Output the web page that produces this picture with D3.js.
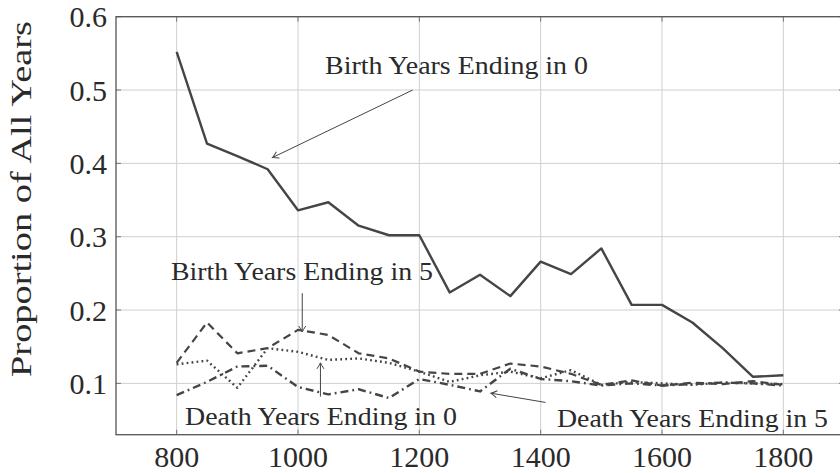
<!DOCTYPE html>
<html>
<head>
<meta charset="utf-8">
<script src="https://cdn.jsdelivr.net/npm/d3@7"></script>
<style>
  body { margin: 0; background: #fff; }
  svg { display: block; }
</style>
</head>
<body>
<div id="chart"></div>
<script>
// data, one value every 50 years
const YEARS = d3.range(800, 1801, 50);
const BIRTH_0 = [0.552, 0.427, 0.410, 0.392, 0.336, 0.347, 0.315, 0.302, 0.302, 0.224, 0.248,
                 0.219, 0.266, 0.249, 0.284, 0.207, 0.207, 0.183, 0.148, 0.109, 0.111];
const BIRTH_5 = [0.128, 0.183, 0.141, 0.148, 0.173, 0.166, 0.141, 0.134, 0.116, 0.113, 0.113,
                 0.127, 0.123, 0.113, 0.098, 0.104, 0.097, 0.101, 0.099, 0.103, 0.098];
const DEATH_0 = [0.126, 0.131, 0.094, 0.148, 0.143, 0.132, 0.134, 0.128, 0.116, 0.102, 0.111,
                 0.116, 0.107, 0.118, 0.098, 0.102, 0.100, 0.098, 0.101, 0.100, 0.099];
const DEATH_5 = [0.084, 0.102, 0.123, 0.124, 0.095, 0.085, 0.092, 0.080, 0.106, 0.098, 0.089,
                 0.120, 0.106, 0.103, 0.097, 0.100, 0.097, 0.099, 0.101, 0.100, 0.097];
const X_TICKS = [800, 1000, 1200, 1400, 1600, 1800];
const Y_TICKS = [0.1, 0.2, 0.3, 0.4, 0.5, 0.6];

const WIDTH = 840;
const HEIGHT = 473;
const FONT = "Liberation Serif";
const INK = "#454545";
const TEXT = "#2a2a2a";
const BIG = 1.2; // big labels are drawn at 25px and scaled up

const svg = d3.select("#chart").append("svg")
    .attr("width", WIDTH).attr("height", HEIGHT)
    .attr("font-family", FONT);

const x = d3.scaleLinear().domain([700, 1900]).range([116, 844]);
const y = d3.scaleLinear().domain([0.03, 0.6]).range([434.7, 16.7]);

// grid
svg.append("g")
    .selectAll("line")
    .data(X_TICKS)
    .join("line")
    .attr("x1", d => x(d)).attr("x2", d => x(d))
    .attr("y1", y(0.6)).attr("y2", y(0.03))
    .attr("stroke", "#cfcfcf").attr("stroke-width", 1);

svg.append("g")
    .selectAll("line")
    .data(Y_TICKS)
    .join("line")
    .attr("x1", x(700)).attr("x2", x(1900))
    .attr("y1", d => y(d)).attr("y2", d => y(d))
    .attr("stroke", "#cfcfcf").attr("stroke-width", 1);

// small inner ticks like pgfplots
const tickG = svg.append("g").attr("stroke", "#777").attr("stroke-width", 1);
Y_TICKS.forEach(t => {
    tickG.append("line").attr("x1", x(700)).attr("x2", x(700) + 5).attr("y1", y(t)).attr("y2", y(t));
    tickG.append("line").attr("x1", x(1900) - 5).attr("x2", x(1900)).attr("y1", y(t)).attr("y2", y(t));
});
X_TICKS.forEach(t => {
    tickG.append("line").attr("x1", x(t)).attr("x2", x(t)).attr("y1", y(0.03)).attr("y2", y(0.03) - 5);
    tickG.append("line").attr("x1", x(t)).attr("x2", x(t)).attr("y1", y(0.6)).attr("y2", y(0.6) + 5);
});

// frame
svg.append("rect")
    .attr("x", x(700)).attr("y", y(0.6))
    .attr("width", x(1900) - x(700)).attr("height", y(0.03) - y(0.6))
    .attr("fill", "none").attr("stroke", "#555").attr("stroke-width", 1.3);

// tick labels drawn from the scales
svg.append("g")
    .selectAll("text")
    .data(X_TICKS)
    .join("text")
    .attr("transform", d => `translate(${x(d)},467) scale(${BIG})`)
    .attr("text-anchor", "middle")
    .attr("font-size", 25)
    .attr("fill", TEXT)
    .text(d3.format("d"));

svg.append("g")
    .selectAll("text")
    .data(Y_TICKS)
    .join("text")
    .attr("transform", d => `translate(107,${y(d) + 10.5}) scale(${BIG})`)
    .attr("text-anchor", "end")
    .attr("font-size", 25)
    .attr("fill", TEXT)
    .text(d3.format(".1f"));

svg.append("text")
    .attr("transform", `translate(31,199) rotate(-90) scale(${BIG})`)
    .attr("text-anchor", "middle")
    .attr("font-size", 25)
    .attr("fill", TEXT)
    .attr("textLength", 356 / BIG).attr("lengthAdjust", "spacingAndGlyphs")
    .text("Proportion of All Years");

// lines
const series = [
    { name: "Birth Years Ending in 0", values: BIRTH_0, dash: null, width: 2.4 },
    { name: "Birth Years Ending in 5", values: BIRTH_5, dash: "8,5", width: 2.2 },
    { name: "Death Years Ending in 0", values: DEATH_0, dash: "1.8,3.2", width: 2.4 },
    { name: "Death Years Ending in 5", values: DEATH_5, dash: "8,4,1.8,4", width: 2.4 }
];

const line = d3.line()
    .x((d, i) => x(YEARS[i]))
    .y(d => y(d));

svg.append("g")
    .selectAll("path")
    .data(series)
    .join("path")
    .attr("d", d => line(d.values))
    .attr("fill", "none")
    .attr("stroke", INK)
    .attr("stroke-width", d => d.width)
    .attr("stroke-linejoin", "round")
    .attr("stroke-dasharray", d => d.dash);

// annotations
svg.append("defs").append("marker")
    .attr("id", "arr")
    .attr("viewBox", "-8 -5 10 10")
    .attr("refX", 0).attr("refY", 0)
    .attr("markerWidth", 10).attr("markerHeight", 10)
    .attr("markerUnits", "userSpaceOnUse")
    .attr("orient", "auto")
    .append("path")
    .attr("d", "M-6,-3.5 Q-2,-0.8 0,0 Q-2,0.8 -6,3.5")
    .attr("fill", "none").attr("stroke", INK).attr("stroke-width", 1);

const notes = [
    { text: "Birth Years Ending in 0", tx: 325, ty: 74, len: 263, from: [1189, 0.500], to: [958, 0.408] },
    { text: "Birth Years Ending in 5", tx: 171, ty: 280, len: 262, from: [1007, 0.223], to: [1007, 0.170] },
    { text: "Death Years Ending in 0", tx: 185, ty: 425, len: 272, from: [1037, 0.082], to: [1037, 0.128] },
    { text: "Death Years Ending in 5", tx: 557, ty: 427, len: 271, from: [1408, 0.074], to: [1318, 0.0866] }
];

svg.append("g")
    .selectAll("line")
    .data(notes)
    .join("line")
    .attr("x1", d => x(d.from[0])).attr("y1", d => y(d.from[1]))
    .attr("x2", d => x(d.to[0])).attr("y2", d => y(d.to[1]))
    .attr("stroke", INK).attr("stroke-width", 1)
    .attr("marker-end", "url(#arr)");

svg.append("g")
    .selectAll("text")
    .data(notes)
    .join("text")
    .attr("x", d => d.tx).attr("y", d => d.ty)
    .attr("font-size", 26)
    .attr("fill", TEXT)
    .attr("textLength", d => d.len).attr("lengthAdjust", "spacingAndGlyphs")
    .text(d => d.text);
</script>
</body>
</html>
